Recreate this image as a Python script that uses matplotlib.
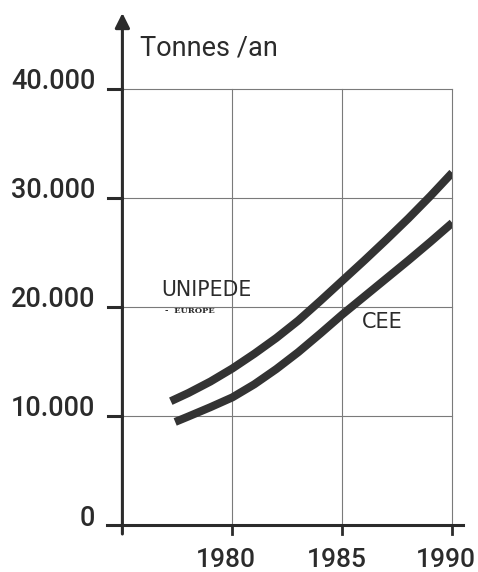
import matplotlib
matplotlib.use("Agg")
import matplotlib.pyplot as plt

# ---- data ----
years_unipede = [1977.2, 1978, 1979, 1980, 1981, 1982, 1983, 1984, 1985, 1986, 1987, 1988, 1989, 1990]
tonnes_unipede = [11350, 12100, 13150, 14350, 15700, 17150, 18750, 20550, 22400, 24250, 26150, 28100, 30150, 32300]
years_cee = [1977.4, 1978, 1979, 1980, 1981, 1982, 1983, 1984, 1985, 1986, 1987, 1988, 1989, 1990]
tonnes_cee = [9450, 9950, 10800, 11700, 12900, 14300, 15850, 17550, 19300, 20950, 22600, 24250, 25950, 27700]
x_ticks = [1980, 1985, 1990]
x_labels = ["1980", "1985", "1990"]
y_ticks = [0, 10000, 20000, 30000, 40000]
y_labels = ["0", "10.000", "20.000", "30.000", "40.000"]
y_title = "Tonnes /an"

W, H = 478, 572
fig = plt.figure(figsize=(W / 100, H / 100), dpi=100)
fig.patch.set_facecolor("white")
ax = fig.add_axes([122.4 / W, (H - 525) / H, 329.9 / W, 436.3 / H])
ax.set_xlim(1975, 1990)
ax.set_ylim(0, 40000)
ax.axis("off")

ink = "#2b2b2b"
grid = "#7a7a7a"
px_x = 15 / 329.9   # years per pixel
px_y = 40000 / 436.3  # tonnes per pixel

# grid
for x in x_ticks:
    ax.plot([x, x], [0, 40000], color=grid, lw=0.8, clip_on=False, zorder=1)
for y in y_ticks[1:]:
    ax.plot([1975, 1990], [y, y], color=grid, lw=0.8, clip_on=False, zorder=1)

# axes
ax.plot([1975 - 15 * px_x, 1990 + 10.5 * px_x], [0, 0], color=ink, lw=2.2, clip_on=False, zorder=3)
ax.annotate("", xy=(1975, (525 - 13) * px_y), xytext=(1975, -9 * px_y),
            arrowprops=dict(arrowstyle="-|>", lw=2.2, color=ink, mutation_scale=22,
                            shrinkA=0, shrinkB=0),
            annotation_clip=False, zorder=3)
for y in y_ticks[1:]:
    ax.plot([1975 - 14 * px_x, 1975], [y, y], color=ink, lw=2.2, clip_on=False, zorder=3)
for x in x_ticks:
    ax.plot([x, x], [0, -9 * px_y], color=ink, lw=2.0, clip_on=False, zorder=3)

# tick labels
for y, lab in zip(y_ticks, y_labels):
    ax.text(1975 - 27 * px_x, y + 7 * px_y, lab, ha="right", va="center",
            fontsize=19.5, family="Roboto", weight="medium", color=ink)
for x, lab in zip(x_ticks, x_labels):
    ax.text(x - 6 * px_x, -35 * px_y, lab, ha="center", va="center",
            fontsize=19, family="Roboto", weight="medium", color=ink)

ax.text(1975 + 18 * px_x, (525 - 48) * px_y, y_title, ha="left", va="center",
        fontsize=19.5, family="Roboto", color=ink)

# curves
ax.plot(years_unipede, tonnes_unipede, color="#333333", lw=5.8, solid_capstyle="butt",
        solid_joinstyle="round", zorder=4)
ax.plot(years_cee, tonnes_cee, color="#333333", lw=5.8, solid_capstyle="butt",
        solid_joinstyle="round", zorder=4)

# labels
ax.text(1975 + 38.5 * px_x, (525 - 290.5) * px_y, "UNIPEDE", ha="left", va="center",
        fontsize=14.8, family="DejaVu Sans", color=ink)
ax.text(1975 + 42.5 * px_x, (525 - 311) * px_y, "-  EUROPE", ha="left", va="center",
        fontsize=6, family="DejaVu Serif", weight="bold", color=ink)
ax.text(1975 + 239.5 * px_x, (525 - 322.5) * px_y, "CEE", ha="left", va="center",
        fontsize=15, family="DejaVu Sans", color=ink)

fig.savefig("out.png", dpi=100, facecolor="white")
